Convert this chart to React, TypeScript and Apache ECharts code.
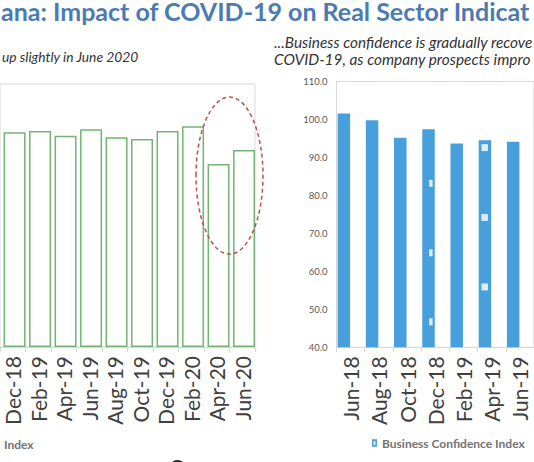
import React, { useEffect, useRef } from "react";
import * as echarts from "echarts";

// ---- Data ----
const titleText = "ana: Impact of COVID-19 on Real Sector Indicat";
const leftSubtitle = "up slightly in June 2020";
const rightSubtitle = ["...Business confidence is gradually recove", "COVID-19, as company prospects impro"];

const leftCategories = ["Dec-18", "Feb-19", "Apr-19", "Jun-19", "Aug-19", "Oct-19", "Dec-19", "Feb-20", "Apr-20", "Jun-20"];
const leftValues = [98.0, 98.6, 96.4, 99.3, 95.7, 94.9, 98.6, 100.7, 83.5, 89.9];
const leftLegendTail = "Index";

const rightCategories = ["Jun-18", "Aug-18", "Oct-18", "Dec-18", "Feb-19", "Apr-19", "Jun-19"];
const rightValues = [101.6, 99.8, 95.2, 97.4, 93.7, 94.5, 94.1];
const rightYLabels = ["40.0", "50.0", "60.0", "70.0", "80.0", "90.0", "100.0", "110.0"];
const rightSeriesName = "Business Confidence Index";
// small white speckles visible inside two of the blue bars
const speckDec18 = [83.2, 64.9, 46.7];
const speckApr19 = [92.6, 74.2, 55.9];

const LATO = "Lato, 'Noto Sans', sans-serif";

export default function App() {
  const ref = useRef<HTMLDivElement>(null);
  useEffect(() => {
    if (!ref.current) return;
    const chart = echarts.init(ref.current, null, { renderer: "svg" });
    const yMin = parseFloat(rightYLabels[0]);
    const yMax = parseFloat(rightYLabels[rightYLabels.length - 1]);
    const yStep = parseFloat(rightYLabels[1]) - yMin;
    const axisGray = "#d9d9d9";
    const xLabel = {
      rotate: 90,
      fontSize: 21,
      fontFamily: LATO,
      color: "#404040",
      margin: 9,
    };
    const iDec18 = rightCategories.indexOf("Dec-18");
    const iApr19 = rightCategories.indexOf("Apr-19");
    chart.setOption({
      animation: false,
      title: [
        {
          text: titleText,
          left: 1,
          top: 0,
          padding: 0,
          textStyle: { fontSize: 25, lineHeight: 21, fontWeight: "bold", color: "#4b7bb1", fontFamily: LATO },
        },
        {
          text: leftSubtitle,
          left: 2,
          top: 49,
          padding: 0,
          textStyle: { fontSize: 13.8, fontStyle: "italic", fontWeight: "normal", color: "#333333", fontFamily: LATO },
        },
        {
          text: rightSubtitle.join("\n"),
          left: 274,
          top: 33,
          padding: 0,
          textStyle: { fontSize: 15.4, lineHeight: 17, fontStyle: "italic", fontWeight: "normal", color: "#333333", fontFamily: LATO },
        },
      ],
      legend: {
        data: [rightSeriesName],
        left: 372,
        top: 437,
        padding: 0,
        icon: "path://M0,0H6V9H0Z M2,2V7H4V2Z",
        itemWidth: 5,
        itemHeight: 8,
        textStyle: { fontSize: 12, fontWeight: "bold", color: "#737373", fontFamily: LATO },
      },
      grid: [
        { left: -11, right: 279, top: 84, bottom: 115, show: true, borderColor: axisGray, borderWidth: 1, backgroundColor: "transparent" },
        { left: 336.5, right: -15, top: 81.5, bottom: 114.7, show: true, borderColor: axisGray, borderWidth: 1, backgroundColor: "transparent" },
      ],
      xAxis: [
        {
          gridIndex: 0,
          type: "category",
          data: leftCategories,
          axisLine: { lineStyle: { color: axisGray } },
          axisTick: { show: true, length: 5, lineStyle: { color: axisGray } },
          axisLabel: { ...xLabel, interval: 0 },
        },
        {
          gridIndex: 1,
          type: "category",
          data: rightCategories,
          axisLine: { lineStyle: { color: axisGray } },
          axisTick: { show: true, length: 5, lineStyle: { color: axisGray } },
          axisLabel: { ...xLabel, interval: 0, padding: [0, 0, 13.4, 0] },
        },
      ],
      yAxis: [
        { gridIndex: 0, type: "value", min: 0, max: 120, show: false, splitLine: { show: false } },
        {
          gridIndex: 1,
          type: "value",
          min: yMin,
          max: yMax,
          interval: yStep,
          axisLine: { show: true, lineStyle: { color: axisGray } },
          axisTick: { show: false },
          splitLine: { show: false },
          axisLabel: {
            fontSize: 9.5,
            color: "#595959",
            fontFamily: LATO,
            margin: 9,
            formatter: (v: number) => v.toFixed(1),
          },
        },
      ],
      series: [
        {
          name: "_spacerL",
          type: "bar",
          xAxisIndex: 0,
          yAxisIndex: 0,
          barWidth: 3.6,
          barGap: "0%",
          data: leftCategories.map(() => null),
          silent: true,
        },
        {
          name: "Index",
          type: "bar",
          xAxisIndex: 0,
          yAxisIndex: 0,
          barWidth: 22,
          barGap: "0%",
          data: leftValues,
          itemStyle: { color: "#ffffff", borderColor: "#72b572", borderWidth: 1.5 },
          silent: true,
        },
        {
          name: rightSeriesName,
          type: "bar",
          xAxisIndex: 1,
          yAxisIndex: 1,
          barWidth: 12.5,
          barGap: "8%",
          data: rightValues,
          itemStyle: { color: "#47a0db" },
          silent: true,
        },
        {
          name: "_spacerR",
          type: "bar",
          xAxisIndex: 1,
          yAxisIndex: 1,
          barWidth: 12.5,
          barGap: "8%",
          data: rightCategories.map(() => null),
          silent: true,
        },
        {
          name: "_speckA",
          type: "scatter",
          xAxisIndex: 1,
          yAxisIndex: 1,
          symbol: "rect",
          symbolSize: [3.5, 7],
          symbolOffset: [-4.4, 0],
          itemStyle: { color: "#ffffff" },
          data: speckDec18.map((v) => [iDec18, v]),
          silent: true,
          z: 5,
        },
        {
          name: "_speckB",
          type: "scatter",
          xAxisIndex: 1,
          yAxisIndex: 1,
          symbol: "rect",
          symbolSize: [6.5, 7],
          symbolOffset: [-7, 0],
          itemStyle: { color: "#ffffff" },
          data: speckApr19.map((v) => [iApr19, v]),
          silent: true,
          z: 5,
        },
      ],
    });

    const n = leftCategories.length;
    const pA = chart.convertToPixel({ xAxisIndex: 0, yAxisIndex: 0 }, [n - 2, 78.2]) as number[];
    const pB = chart.convertToPixel({ xAxisIndex: 0, yAxisIndex: 0 }, [n - 1, 78.2]) as number[];
    chart.setOption({
      graphic: [
        {
          type: "ellipse",
          z: 100,
          shape: { cx: (pA[0] + pB[0]) / 2, cy: pA[1], rx: 33.5, ry: 78.5 },
          style: { fill: "none", stroke: "#c0504d", lineWidth: 1.5, lineDash: [4, 3] },
          silent: true,
        },
        {
          type: "text",
          left: 4,
          top: 438,
          style: { text: leftLegendTail, fontSize: 12, fontWeight: "bold", fill: "#737373", fontFamily: LATO },
        },
        {
          type: "circle",
          shape: { cx: 177.5, cy: 468, r: 8 },
          style: { fill: "#2b2b2b" },
        },
      ],
    });
    return () => chart.dispose();
  }, []);
  return <div ref={ref} style={{ position: "absolute", left: 0, top: 0, width: 534, height: 462 }} />;
}
